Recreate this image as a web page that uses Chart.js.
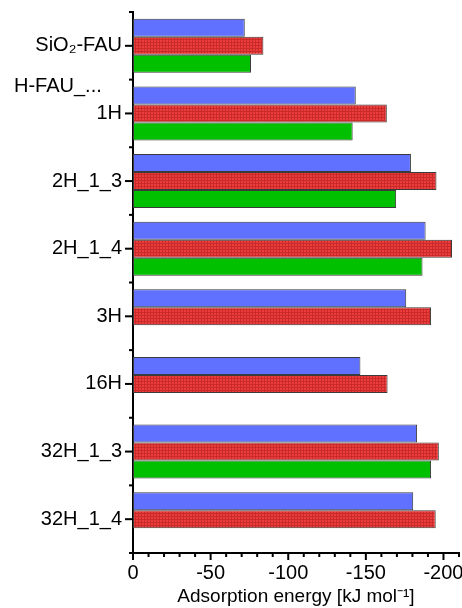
<!DOCTYPE html>
<html>
<head>
<meta charset="utf-8">
<script src="https://cdn.jsdelivr.net/npm/chart.js@4"></script>
<style>
  html, body { margin: 0; padding: 0; background: #fff; }
  #wrap { width: 462px; height: 608px; }
</style>
</head>
<body>
<div id="wrap"><canvas id="chart" width="462" height="608"></canvas></div>
<script>
// Data (kJ/mol)
const categories = ['SiO₂-FAU', '1H', '2H_1_3', '2H_1_4', '3H', '16H', '32H_1_3', '32H_1_4'];
const blueValues = [-72, -143.5, -179, -188.5, -176, -146.5, -183, -180.5];
const redValues = [-84, -163.5, -195.5, -205.5, -192, -164, -197, -195];
const greenValues = [-76, -141.5, -169.5, -186.5, null, null, -192, null];
const xTickValues = [0, -50, -100, -150, -200];

const FONT = 'Liberation Sans, Arial, sans-serif';

// red bars have a fine cross-hatch
function hatchPattern() {
    const c = document.createElement('canvas');
    c.width = 3; c.height = 3;
    const g = c.getContext('2d');
    g.fillStyle = '#ec3c3c';
    g.fillRect(0, 0, 3, 3);
    g.fillStyle = '#c92a2a';
    g.fillRect(0, 0, 3, 1);
    g.fillRect(0, 0, 1, 3);
    return g.createPattern(c, 'repeat');
}

// axis ticks + the "H-FAU_..." note
const axisDecor = {
    id: 'axisDecor',
    afterDraw(chart) {
        const ctx = chart.ctx;
        const x = chart.scales.x, y = chart.scales.y;
        ctx.save();
        ctx.strokeStyle = '#000';
        ctx.lineWidth = 2;
        // y: major at category centres, minor at boundaries
        const n = categories.length;
        const step = (y.bottom - y.top) / n;
        for (let i = 0; i < n; i++) {
            const py = y.getPixelForValue(i);
            ctx.beginPath();
            ctx.moveTo(y.right - 8, py);
            ctx.lineTo(y.right, py);
            ctx.stroke();
        }
        for (let i = 0; i <= n; i++) {
            const py = y.top + i * step;
            ctx.beginPath();
            ctx.moveTo(y.right - 4, py);
            ctx.lineTo(y.right, py);
            ctx.stroke();
        }
        // x: major every 50, minor every 10
        for (let v = 0; v >= -210; v -= 10) {
            const px = x.getPixelForValue(v);
            const len = v % 50 === 0 ? 7 : 4;
            ctx.beginPath();
            ctx.moveTo(px, x.top);
            ctx.lineTo(px, x.top + len);
            ctx.stroke();
        }
        ctx.fillStyle = '#000';
        ctx.font = '20px ' + FONT;
        ctx.textAlign = 'left';
        ctx.textBaseline = 'middle';
        ctx.fillText('H-FAU_...', 14, y.top + step * 1.1);
        ctx.restore();
    }
};

const barBase = {
    borderColor: '#3a3a3a',
    borderWidth: 1,
    borderSkipped: false
};

new Chart(document.getElementById('chart'), {
    type: 'bar',
    data: {
        labels: categories,
        datasets: [
            { ...barBase, label: 'blue', data: blueValues, backgroundColor: '#6070ff' },
            { ...barBase, label: 'red', data: redValues, backgroundColor: hatchPattern() },
            { ...barBase, label: 'green', data: greenValues, backgroundColor: '#00c000' }
        ]
    },
    options: {
        indexAxis: 'y',
        responsive: false,
        animation: false,
        layout: { padding: { top: 12, right: 3, left: 0, bottom: 0 } },
        categoryPercentage: 0.8,
        barPercentage: 1.0,
        plugins: {
            legend: { display: false },
            tooltip: { enabled: false }
        },
        scales: {
            x: {
                type: 'linear',
                reverse: true,
                min: -210,
                max: 0,
                afterBuildTicks: (s) => { s.ticks = xTickValues.map(v => ({ value: v })); },
                afterFit: (s) => { s.height = 55; s.paddingLeft = 0; s.paddingRight = 0; },
                grid: { display: false, drawTicks: false },
                border: { display: true, color: '#000', width: 2 },
                ticks: {
                    color: '#000',
                    font: { family: FONT, size: 20 },
                    padding: 8,
                    maxRotation: 0,
                    callback: (v) => String(v)
                },
                title: {
                    display: true,
                    text: 'Adsorption energy [kJ mol⁻¹]',
                    color: '#000',
                    font: { family: FONT, size: 19 },
                    padding: { top: 0, bottom: 0 }
                }
            },
            y: {
                type: 'category',
                afterFit: (s) => { s.width = 133; s.paddingTop = 0; s.paddingBottom = 0; },
                grid: { display: false, drawTicks: false },
                border: { display: true, color: '#000', width: 2 },
                ticks: {
                    color: '#000',
                    font: { family: FONT, size: 20 },
                    padding: 11
                }
            }
        }
    },
    plugins: [axisDecor]
});
</script>
</body>
</html>
